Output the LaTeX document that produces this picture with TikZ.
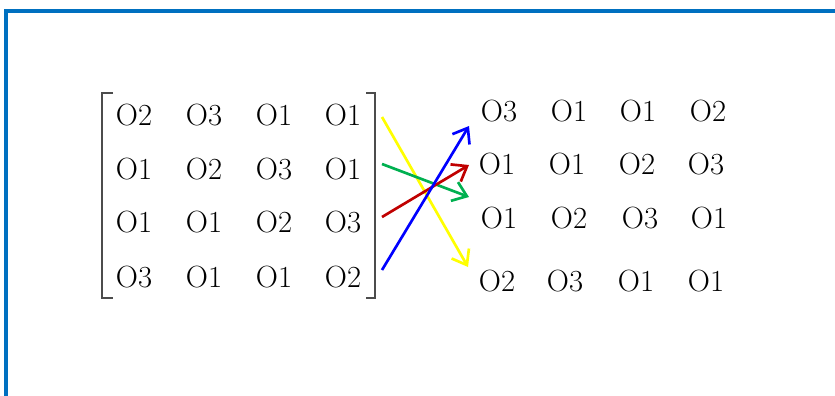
\documentclass[tikz,border=0pt]{standalone}
\usetikzlibrary{arrows.meta}
\definecolor{frameblue}{HTML}{0070C0}
\definecolor{swapyellow}{HTML}{FFFF00}
\definecolor{swapgreen}{HTML}{00B050}
\definecolor{swapred}{HTML}{C00000}
\definecolor{swapblue}{HTML}{0000FF}
\begin{document}
\begin{tikzpicture}[x=0.75pt,y=-0.75pt,
    entry/.style={font=\fontsize{23}{27}\selectfont, inner sep=0pt},
    bracket/.style={line width=1.6pt, draw=black!70},
    swap/.style={line width=2pt, -{Straight Barb[length=10pt,width=15pt,line width=2pt]}}]
        \useasboundingbox (0,0) rectangle (835,396);
        % frame
        \draw[line width=2.8pt, frameblue, line join=miter] (6,396) -- (6,11) -- (835,11);
        % left matrix
        \draw[bracket] (113,93) -- (102,93) -- (102,298) -- (113,298);
        \draw[bracket] (366,93) -- (375,93) -- (375,298) -- (366,298);
        \node[entry] (l11) at (134,115) {O2};
        \node[entry] (l12) at (204,115) {O3};
        \node[entry] (l13) at (274,115) {O1};
        \node[entry] (l14) at (343,115) {O1};
        \node[entry] (l21) at (134,169) {O1};
        \node[entry] (l22) at (204,169) {O2};
        \node[entry] (l23) at (274,169) {O3};
        \node[entry] (l24) at (343,169) {O1};
        \node[entry] (l31) at (134,222) {O1};
        \node[entry] (l32) at (204,222) {O1};
        \node[entry] (l33) at (274,222) {O2};
        \node[entry] (l34) at (343,222) {O3};
        \node[entry] (l41) at (134,277) {O3};
        \node[entry] (l42) at (204,277) {O1};
        \node[entry] (l43) at (274,277) {O1};
        \node[entry] (l44) at (343,277) {O2};
        % right matrix (rows swapped)
        \node[entry] (r11) at (499,111) {O3};
        \node[entry] (r12) at (569,111) {O1};
        \node[entry] (r13) at (638,111) {O1};
        \node[entry] (r14) at (708,111) {O2};
        \node[entry] (r21) at (497,164) {O1};
        \node[entry] (r22) at (567,164) {O1};
        \node[entry] (r23) at (637,164) {O2};
        \node[entry] (r24) at (706,164) {O3};
        \node[entry] (r31) at (499,218) {O1};
        \node[entry] (r32) at (569,218) {O2};
        \node[entry] (r33) at (640,218) {O3};
        \node[entry] (r34) at (709,218) {O1};
        \node[entry] (r41) at (497,281) {O2};
        \node[entry] (r42) at (565,281) {O3};
        \node[entry] (r43) at (636,281) {O1};
        \node[entry] (r44) at (706,281) {O1};
        % row arrows
        \coordinate (ya) at (382,117);
        \coordinate (yb) at (468,267);
        \coordinate (ga) at (382,164);
        \coordinate (gb) at (469,197);
        \coordinate (ra) at (382,217);
        \coordinate (rb) at (469,165);
        \coordinate (ba) at (382,270);
        \coordinate (bb) at (469,126);
        \draw[swap, swapyellow] (ya) -- (yb);
        \draw[swap, swapgreen] (ga) -- (gb);
        \draw[swap, swapred] (ra) -- (rb);
        \draw[swap, swapblue] (ba) -- (bb);
    \end{tikzpicture}
\end{document}
